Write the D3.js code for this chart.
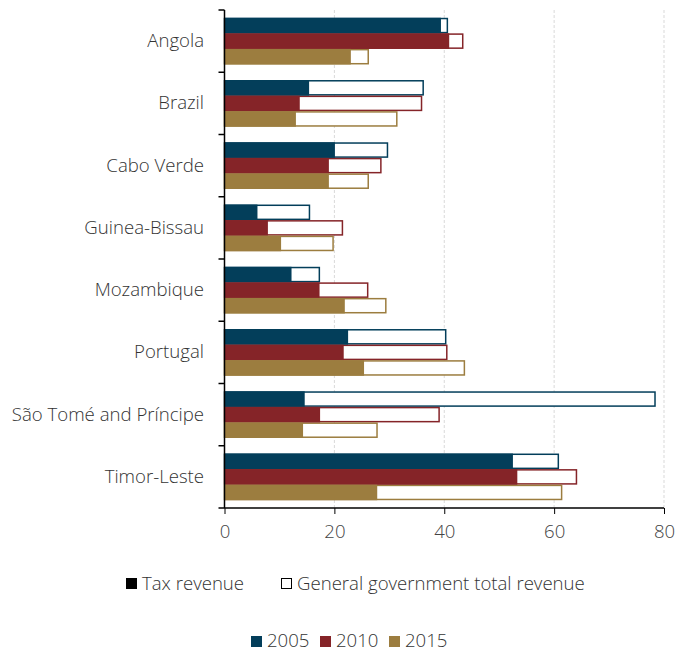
<!DOCTYPE html>
<html><head><meta charset="utf-8">
<script src="https://cdn.jsdelivr.net/npm/d3@7"></script>
<style>body{margin:0;background:#fff}svg{display:block;font-family:"Open Sans",sans-serif;font-weight:300}</style>
</head><body><svg id="c" width="686" height="653"></svg>
<script>
const categories = ["Angola","Brazil","Cabo Verde","Guinea-Bissau","Mozambique","Portugal","São Tomé and Príncipe","Timor-Leste"];
const years = ["2005","2010","2015"];
const tax2005 = [39.4,15.4,20.1,6.0,12.2,22.5,14.6,52.5];
const tax2010 = [40.9,13.7,19.0,7.9,17.3,21.7,17.4,53.3];
const tax2015 = [23.0,13.0,19.0,10.3,21.9,25.4,14.3,27.8];
const total2005 = [40.7,36.3,29.8,15.6,17.4,40.4,78.5,60.9];
const total2010 = [43.5,36.0,28.6,21.6,26.2,40.6,39.2,64.2];
const total2015 = [26.3,31.5,26.3,19.9,29.5,43.8,27.9,61.5];
const xTicks = [0,20,40,60,80];
const colors = ["#033e5a","#852428","#9c7d3f"];

const taxes = [tax2005,tax2010,tax2015], totals=[total2005,total2010,total2015];
const svg = d3.select("#c");
const L=224.5,R=664,T=10,B=508;
const FS=18.6;
const x = d3.scaleLinear().domain([0,80]).range([L,R]);
const y = d3.scaleBand().domain(categories).range([T,B]).paddingInner(0.25).paddingOuter(0.125);
const yi = d3.scaleBand().domain(years).range([0,y.bandwidth()]).padding(0);
const col = d3.scaleOrdinal().domain(years).range(colors);

// grid
svg.append("g").selectAll("line").data(xTicks.filter(d=>d>0)).join("line")
  .attr("x1",d=>x(d)).attr("x2",d=>x(d)).attr("y1",T).attr("y2",B)
  .attr("stroke","#d9d9d9").attr("stroke-dasharray","3,2").attr("stroke-width",1);

const rows=[];
categories.forEach((c,i)=>years.forEach((yr,j)=>rows.push({c,yr,tax:taxes[j][i],total:totals[j][i]})));
const g = svg.append("g");
g.selectAll("rect.tot").data(rows).join("rect").attr("class","tot")
  .attr("x",x(0)).attr("y",d=>y(d.c)+yi(d.yr)+0.75).attr("width",d=>x(d.total)-x(0)-0.75)
  .attr("height",yi.bandwidth()-1.5).attr("fill","#fff").attr("stroke",d=>col(d.yr)).attr("stroke-width",1.5);
g.selectAll("rect.tax").data(rows).join("rect").attr("class","tax")
  .attr("x",x(0)).attr("y",d=>y(d.c)+yi(d.yr)).attr("width",d=>x(d.tax)-x(0))
  .attr("height",yi.bandwidth()).attr("fill",d=>col(d.yr));

// x axis
const xa = svg.append("g").attr("transform",`translate(0,${B})`)
  .call(d3.axisBottom(x).tickValues(xTicks).tickSize(6).tickPadding(11).tickFormat(d3.format("d")));
xa.select(".domain").attr("d",`M${L-6},0H${R}`).attr("stroke","#000").attr("stroke-width",1.5);
xa.selectAll(".tick line").attr("stroke","#000");
xa.selectAll("text").attr("font-size",FS).attr("fill","#444").attr("font-family","Open Sans").attr("font-weight",300);

// y axis
const ya = svg.append("g").attr("transform",`translate(${L},0)`)
  .call(d3.axisLeft(y).tickSize(0).tickPadding(20.5));
ya.select(".domain").attr("d",`M0,${T}V${B}`).attr("stroke","#000").attr("stroke-width",1.5);
ya.selectAll("text").attr("font-size",FS).attr("fill","#333").attr("font-family","Open Sans").attr("font-weight",300);
const step=y.step(), half=step*y.paddingInner()/2;
const bounds = categories.map(c=>y(c)-half);
ya.selectAll("line.bt").data(bounds).join("line").attr("class","bt")
  .attr("x1",-6).attr("x2",0).attr("y1",d=>d).attr("y2",d=>d).attr("stroke","#000").attr("stroke-width",1.5);

// legend 1
const l1 = svg.append("g").attr("font-size",FS).attr("fill","#333");
l1.append("rect").attr("x",126).attr("y",578).attr("width",11).attr("height",11).attr("fill","#000");
l1.append("text").attr("x",142).attr("y",590).text("Tax revenue");
l1.append("rect").attr("x",281.5).attr("y",578.5).attr("width",10).attr("height",10).attr("fill","#fff").attr("stroke","#000");
l1.append("text").attr("x",297).attr("y",590).text("General government total revenue");

// legend 2
const lx=[251,320,389];
const l2 = svg.append("g").attr("font-size",FS).attr("fill","#333");
years.forEach((yr,j)=>{
  l2.append("rect").attr("x",lx[j]).attr("y",636).attr("width",11).attr("height",11).attr("fill",col(yr));
  l2.append("text").attr("x",lx[j]+16).attr("y",647).text(yr);
});
</script></body></html>
